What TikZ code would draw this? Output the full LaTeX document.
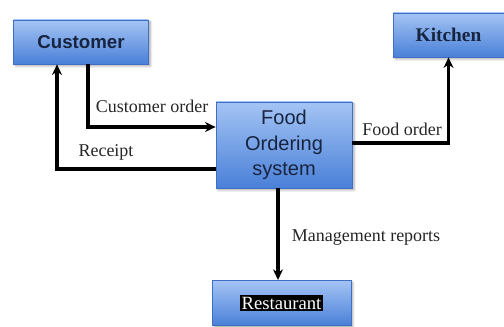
\documentclass[tikz,border=0pt]{standalone}
\usepackage{fontspec}
\setmainfont{Liberation Serif}
\setsansfont{Liberation Sans}
\usepackage{tikz}
\usetikzlibrary{arrows.meta, shadows.blur, calc}
\definecolor{boxtop}{HTML}{A4C4F4}
\definecolor{boxbottom}{HTML}{4A80D8}
\definecolor{boxline}{HTML}{3F6FC4}
\definecolor{boxtext}{HTML}{17243F}
\tikzset{
  entity/.style={
    rectangle, minimum width=101pt, minimum height=33pt,
    text centered, draw=boxline, line width=0.5pt,
    top color=boxtop, bottom color=boxbottom, text=boxtext,
    blur shadow={shadow xshift=1.5pt, shadow yshift=-1.5pt, shadow blur steps=5, shadow opacity=35}
  },
  process/.style={
    entity, minimum width=102pt, minimum height=64.5pt,
    align=center, font=\sffamily\fontsize{15}{19}\selectfont
  },
  flowlabel/.style={
    font=\fontsize{13.5}{16}\selectfont, text=black!85, inner sep=0pt
  },
  arrow/.style={
    -{Stealth[length=8pt, width=7.5pt]}, line width=2.6pt, color=black
  }
}

\begin{document}
\begin{tikzpicture}[x=0.75pt, y=-0.75pt]
\useasboundingbox (0,0) rectangle (504,327);
\clip (0,0) rectangle (504,327);

% external entities and the process
\node[entity, font=\sffamily\bfseries\fontsize{14}{16}\selectfont] (customer) at (81,42) {Customer};
\node[entity, minimum width=83pt, font=\bfseries\fontsize{14.5}{16}\selectfont] (kitchen) at (448.5,35) {Kitchen};
\node[process] (system) at (284,145) {Food\\Ordering\\system};
\node[entity, minimum width=104pt, minimum height=34pt] (restaurant) at (281.5,303)
  {\fontsize{14}{16}\selectfont\setlength{\fboxsep}{1.2pt}\colorbox{black}{\color{white}Restaurant}};

% data flows
\draw[arrow] ([xshift=5.25pt]customer.south) |- ([yshift=13.5pt]system.west);
\draw[arrow] ([yshift=-18pt]system.west) -| ([xshift=-18pt]customer.south);
\draw[arrow] ([yshift=1.5pt]system.east) -| (kitchen.south);
\draw[arrow] ([xshift=-4.5pt]system.south) -- ([xshift=-4.5pt]system.south |- restaurant.north);

% flow labels
\node[flowlabel] (orderlbl) at (152,106) {Customer order};
\node[flowlabel] (receiptlbl) at (106,152) {Receipt};
\node[flowlabel] (foodlbl) at (402,129) {Food order};
\node[flowlabel] (reportlbl) at (366,238) {Management reports};
\end{tikzpicture}
\end{document}
